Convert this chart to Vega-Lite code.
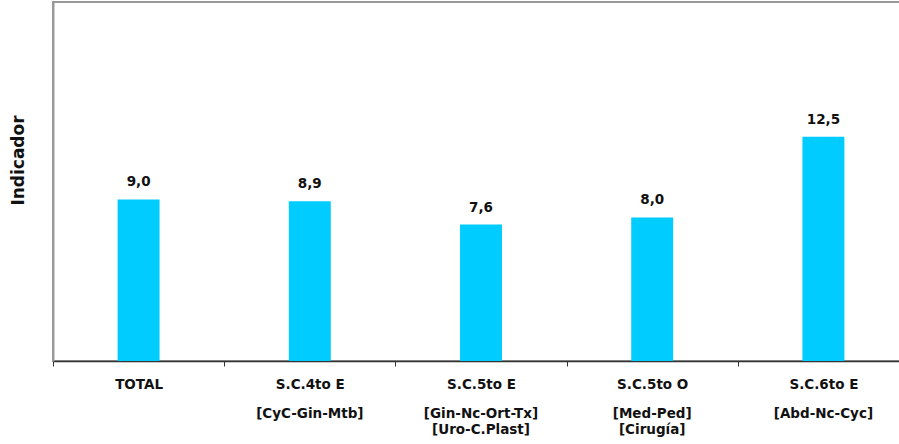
{
  "$schema": "https://vega.github.io/schema/vega-lite/v6.json",
  "autosize": "none",
  "padding": {"left": 53, "top": 2, "right": 0, "bottom": 83},
  "width": 856,
  "height": 359,
  "background": "white",
  "config": {
    "locale": {"number": {"decimal": ",", "thousands": ".", "grouping": [3], "currency": ["", " €"]}},
    "view": {"stroke": "#999999", "strokeWidth": 2},
    "font": "DejaVu Sans"
  },
  "data": {
    "values": [
      {"label": "TOTAL", "value": 9.0},
      {"label": "S.C.4to E|[CyC-Gin-Mtb]", "value": 8.9},
      {"label": "S.C.5to E|[Gin-Nc-Ort-Tx]|[Uro-C.Plast]", "value": 7.6},
      {"label": "S.C.5to O|[Med-Ped]|[Cirugía]", "value": 8.0},
      {"label": "S.C.6to E|[Abd-Nc-Cyc]", "value": 12.5}
    ]
  },
  "resolve": {"axis": {"x": "independent"}},
  "layer": [
    {
      "mark": {"type": "bar", "color": "#00CCFF", "width": {"band": 0.245}},
      "encoding": {
        "x": {
          "field": "label",
          "type": "nominal",
          "sort": null,
          "scale": {"paddingInner": 0, "paddingOuter": 0},
          "axis": {
            "orient": "bottom",
            "title": null,
            "labelAngle": 0,
            "labelExpr": "split(datum.label, '|')[0]",
            "labelFont": "DejaVu Sans",
            "labelFontWeight": "bold",
            "labelFontSize": 13.5,
            "labelColor": "#111111",
            "labelPadding": 11,
            "tickBand": "extent",
            "tickSize": 5,
            "tickColor": "#333333",
            "domainColor": "#333333",
            "domainWidth": 1.5,
            "labelBound": false,
            "labelOverlap": false
          }
        },
        "y": {
          "field": "value",
          "type": "quantitative",
          "scale": {"domain": [0, 20], "nice": false},
          "axis": {
            "title": "Indicador",
            "titleFont": "DejaVu Sans",
            "titleFontWeight": "bold",
            "titleFontSize": 17,
            "titleColor": "#111111",
            "titlePadding": 26,
            "titleY": 158,
            "labels": false,
            "ticks": false,
            "grid": false,
            "domainColor": "#999999",
            "domainWidth": 2
          }
        }
      }
    },
    {
      "mark": {"type": "text", "dy": -13, "baseline": "alphabetic", "font": "DejaVu Sans", "fontWeight": "bold", "fontSize": 13.5, "color": "#111111"},
      "encoding": {
        "x": {
          "field": "label",
          "type": "nominal",
          "sort": null,
          "axis": {
            "orient": "bottom",
            "title": null,
            "labelAngle": 0,
            "labelExpr": "slice(split(datum.label, '|'), 1)",
            "labelFont": "DejaVu Sans",
            "labelFontWeight": "bold",
            "labelFontSize": 13.5,
            "labelColor": "#111111",
            "labelLineHeight": 16.5,
            "labelPadding": 45,
            "ticks": false,
            "tickSize": 5,
            "domain": false,
            "labelBound": false,
            "labelOverlap": false
          }
        },
        "y": {"field": "value", "type": "quantitative"},
        "text": {"field": "value", "type": "quantitative", "format": ".1f"}
      }
    }
  ]
}
